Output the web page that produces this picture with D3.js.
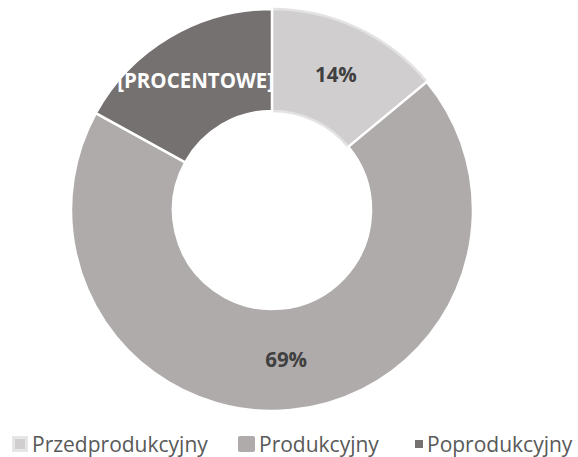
<!DOCTYPE html>
<html><head><meta charset="utf-8">
<script src="https://cdn.jsdelivr.net/npm/d3@7"></script>
<style>body{margin:0;background:#fff}svg{display:block}</style>
</head><body>
<svg id="c" width="578" height="457"></svg>
<script>
const categories = ["Przedprodukcyjny", "Produkcyjny", "Poprodukcyjny"];
const values = [14, 69, 17];
const labels = ["14%", "69%", "[PROCENTOWE]"];
const colors = ["#d0cece", "#afabab", "#767171"];

const svg = d3.select("#c");
const cx = 272, cy = 210, outerR = 201, innerR = 99;
const g = svg.append("g").attr("transform", `translate(${cx},${cy})`);
const pie = d3.pie().sort(null).value(d => d.v);
const data = pie(categories.map((c, i) => ({c, v: values[i], i})));
const arc = d3.arc().innerRadius(innerR).outerRadius(outerR);
g.selectAll("path").data(data).join("path")
  .attr("d", arc)
  .attr("fill", d => colors[d.data.i])
  .attr("stroke", d => d.data.i === 0 ? "#e4e3e3" : "#fff")
  .attr("stroke-width", 2.5);
g.selectAll("text").data(data).join("text")
  .attr("transform", d => `translate(${arc.centroid(d)})`)
  .attr("text-anchor", "middle").attr("dy", "0.36em")
  .attr("font-family", "Open Sans, sans-serif").attr("font-weight", "bold")
  .attr("font-size", 20.5)
  .attr("fill", d => d.data.i === 2 ? "#ffffff" : "#404040")
  .text(d => labels[d.data.i]);

// legend
const legX = [12, 238, 415];
const leg = svg.append("g");
categories.forEach((c, i) => {
  const x = legX[i];
  const yMid = 444;
  if (i === 0) {
    leg.append("rect").attr("x", x).attr("y", yMid - 8).attr("width", 16).attr("height", 16).attr("fill", "#e7e6e6");
    leg.append("rect").attr("x", x + 3).attr("y", yMid - 5).attr("width", 10).attr("height", 10).attr("fill", colors[0]);
  } else if (i === 1) {
    leg.append("rect").attr("x", x).attr("y", yMid - 8).attr("width", 17).attr("height", 16).attr("rx", 2).attr("fill", colors[1]);
  } else {
    leg.append("rect").attr("x", x).attr("y", yMid - 4).attr("width", 8).attr("height", 8).attr("fill", colors[2]);
  }
  leg.append("text").attr("x", [32, 259, 427][i]).attr("y", yMid).attr("dy", "0.36em")
    .attr("font-family", "Open Sans, sans-serif").attr("font-size", 21).attr("fill", "#595959")
    .text(c);
});
</script>
</body></html>
